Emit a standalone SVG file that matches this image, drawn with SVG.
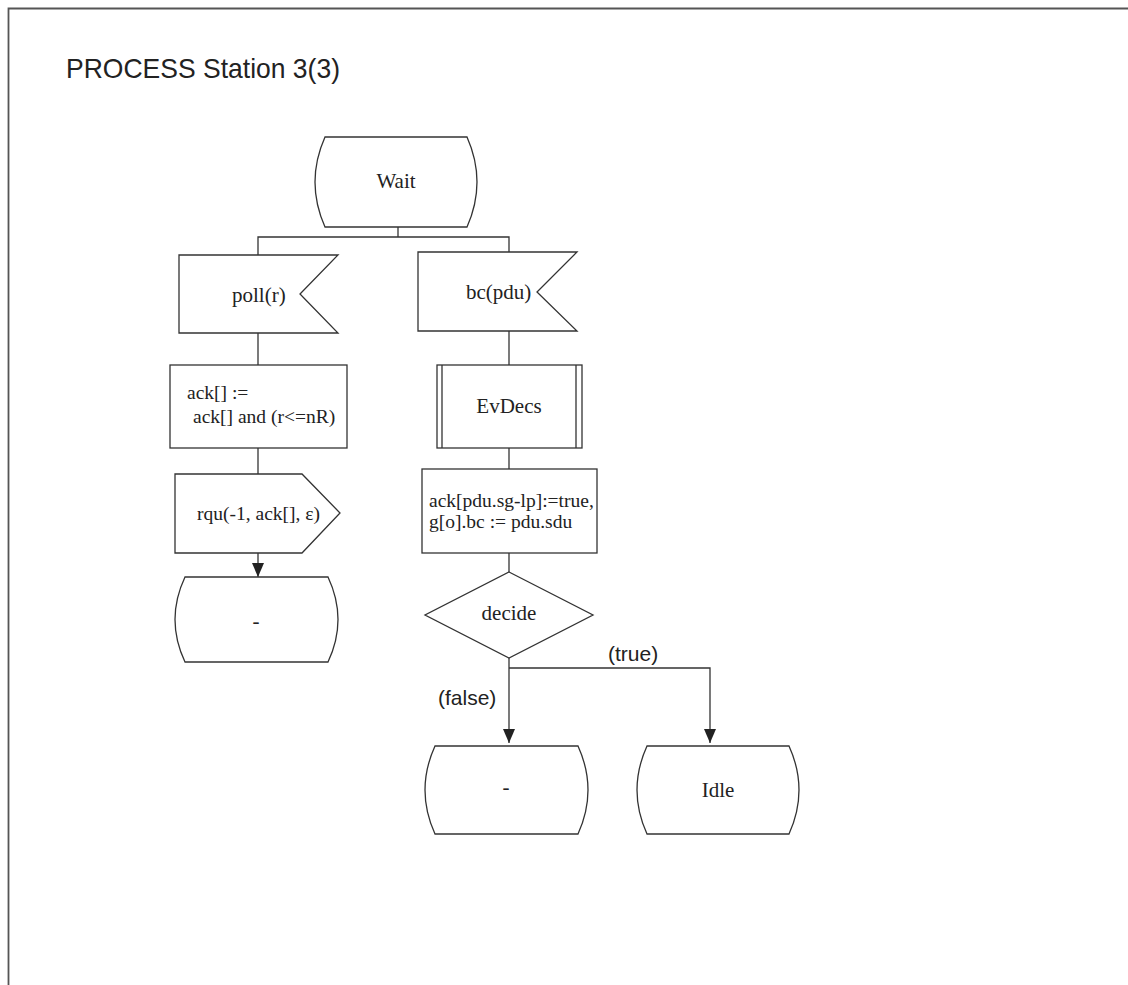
<svg xmlns="http://www.w3.org/2000/svg" width="1128" height="985" viewBox="0 0 1128 985">
<style>
.s{fill:#fff;stroke:#333;stroke-width:1.3}
.c{fill:none;stroke:#333;stroke-width:1.3}
.t{font-family:"Liberation Serif","Times New Roman",serif;font-size:21px;fill:#222}
.tm{font-family:"Liberation Serif","Times New Roman",serif;font-size:19.5px;fill:#222}
.l{font-family:"Liberation Sans",Arial,sans-serif;font-size:21px;fill:#222}
.ttl{font-family:"Liberation Sans",Arial,sans-serif;font-size:28px;fill:#222}
</style>
<defs>
<marker id="arr" viewBox="0 0 14 12" refX="14" refY="6" markerWidth="14" markerHeight="12" orient="auto" markerUnits="userSpaceOnUse">
<path d="M0,0 L14,6 L0,12 Z" fill="#222"/>
</marker>
</defs>
<rect width="1128" height="985" fill="#fff"/>
<path d="M8.5,985 V8.5 H1128" fill="none" stroke="#555" stroke-width="1.8"/>
<text class="ttl" x="66" y="78" textLength="274" lengthAdjust="spacingAndGlyphs">PROCESS Station 3(3)</text>

<g id="connectors">
<path class="c" d="M398,227 V237"/>
<path class="c" d="M258,255 V237 H509 V252"/>
<path class="c" d="M258,333 V365"/>
<path class="c" d="M258,448 V474"/>
<path class="c" d="M258,553 V577" marker-end="url(#arr)"/>
<path class="c" d="M509,331 V365"/>
<path class="c" d="M509,448 V469"/>
<path class="c" d="M509,553 V572"/>
<path class="c" d="M509,658 V743" marker-end="url(#arr)"/>
<path class="c" d="M509,668 H710 V743" marker-end="url(#arr)"/>
<text class="l" x="608" y="661">(true)</text>
<text class="l" x="438" y="705">(false)</text>
</g>

<g id="wait">
<path class="s" d="M325,137 L467,137 Q487,182 467,227 L325,227 Q305,182 325,137 Z"/>
<text class="t" x="396" y="188" text-anchor="middle">Wait</text>
</g>

<g id="poll">
<path class="s" d="M179,255 L338,255 L300,294 L338,333 L179,333 Z"/>
<text class="t" x="232" y="302">poll(r)</text>
</g>

<g id="bc">
<path class="s" d="M418,252 L577,252 L537,292 L577,331 L418,331 Z"/>
<text class="t" x="466" y="299">bc(pdu)</text>
</g>

<g id="task1">
<rect class="s" x="170" y="365" width="177" height="83"/>
<text class="tm" x="187" y="399">ack[] :=</text>
<text class="tm" x="193" y="423">ack[] and (r&lt;=nR)</text>
</g>

<g id="rqu">
<path class="s" d="M175,474 L302,474 L340,513 L302,553 L175,553 Z"/>
<text class="tm" x="197" y="520">rqu(-1, ack[], ε)</text>
</g>

<g id="state1">
<path class="s" d="M185,577 L328,577 Q348,619.5 328,662 L185,662 Q165,619.5 185,577 Z"/>
<text class="t" x="256" y="628" text-anchor="middle">-</text>
</g>

<g id="evdecs">
<rect class="s" x="437" y="365" width="145" height="83"/>
<path class="c" d="M442,365 V448 M576,365 V448"/>
<text class="t" x="509" y="413" text-anchor="middle">EvDecs</text>
</g>

<g id="task2">
<rect class="s" x="422" y="469" width="175" height="84"/>
<text class="tm" x="429" y="507">ack[pdu.sg-lp]:=true,</text>
<text class="tm" x="429" y="528">g[o].bc := pdu.sdu</text>
</g>

<g id="decide">
<path class="s" d="M509,572 L593,615 L509,658 L425,615 Z"/>
<text class="t" x="509" y="620" text-anchor="middle">decide</text>
</g>

<g id="state2">
<path class="s" d="M435,746 L578,746 Q598,790 578,834 L435,834 Q415,790 435,746 Z"/>
<text class="t" x="506" y="794" text-anchor="middle">-</text>
</g>

<g id="idle">
<path class="s" d="M647,746 L789,746 Q809,790 789,834 L647,834 Q627,790 647,746 Z"/>
<text class="t" x="718" y="797" text-anchor="middle">Idle</text>
</g>
</svg>
